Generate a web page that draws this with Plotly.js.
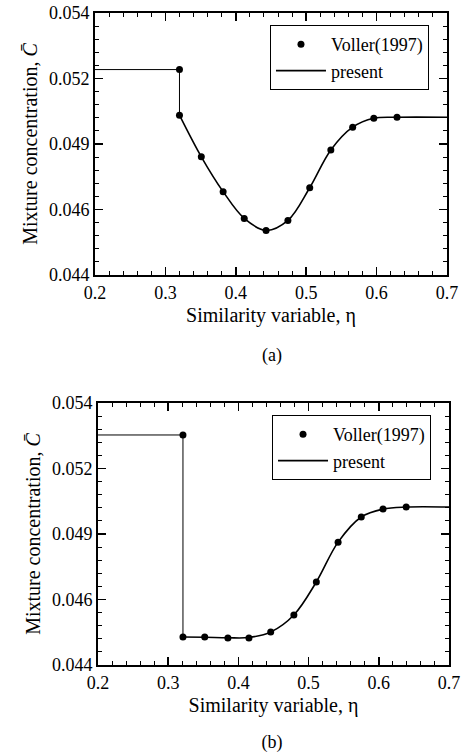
<!DOCTYPE html>
<html>
<head>
<meta charset="utf-8">
<script src="https://cdn.plot.ly/plotly-3.0.1.min.js"></script>
<style>
html,body{margin:0;padding:0;background:#fff;}
#wrap{position:relative;width:465px;height:755px;}
#chart{width:465px;height:755px;}
.cap{position:absolute;width:60px;margin-left:-30px;text-align:center;font-family:'Liberation Serif',serif;font-size:18px;line-height:20px;color:#000;}
</style>
</head>
<body>
<div id="wrap">
<div id="chart"></div>
<div id="capA" class="cap" style="left:272px;top:345px;"></div>
<div id="capB" class="cap" style="left:272px;top:732px;"></div>
</div>
<script>
// ---- Panel (a) data ----
const vollerA_eta = [0.320, 0.320, 0.351, 0.382, 0.412, 0.443, 0.474, 0.505, 0.535, 0.566, 0.596, 0.629];
const vollerA_C   = [0.05184, 0.05010, 0.04851, 0.04718, 0.04616, 0.04570, 0.04608, 0.04733, 0.04877, 0.04964, 0.04998, 0.05002];
const presentA_stepEta = [0.2, 0.320, 0.320];
const presentA_stepC   = [0.05184, 0.05184, 0.05010];
const presentA_eta = [0.320, 0.351, 0.382, 0.412, 0.443, 0.474, 0.505, 0.535, 0.566, 0.596, 0.629, 0.7];
const presentA_C   = [0.05010, 0.04851, 0.04718, 0.04616, 0.04570, 0.04608, 0.04733, 0.04877, 0.04964, 0.04998, 0.05002, 0.05002];

// ---- Panel (b) data ----
const vollerB_eta = [0.321, 0.321, 0.352, 0.385, 0.415, 0.446, 0.479, 0.511, 0.542, 0.575, 0.606, 0.639];
const vollerB_C   = [0.05278, 0.04507, 0.04507, 0.04503, 0.04503, 0.04526, 0.04591, 0.04717, 0.04869, 0.04965, 0.04995, 0.05003];
const presentB_stepEta = [0.2, 0.321, 0.321];
const presentB_stepC   = [0.05278, 0.05278, 0.04507];
const presentB_eta = [0.321, 0.352, 0.385, 0.415, 0.446, 0.479, 0.511, 0.542, 0.575, 0.606, 0.639, 0.7];
const presentB_C   = [0.04507, 0.04506, 0.04504, 0.04505, 0.04526, 0.04591, 0.04717, 0.04869, 0.04965, 0.04995, 0.05003, 0.05003];

// ---- ticks / labels ----
const yTickVals = [0.044, 0.0465, 0.049, 0.0515, 0.054];
const yTickText = ['0.044', '0.046', '0.049', '0.052', '0.054'];
const xTitle = 'Similarity variable, η';
const yTitle = 'Mixture concentration, <i>C̄</i>';
const captions = ['(a)', '(b)'];
const seriesNames = ['Voller(1997)', 'present'];

document.getElementById('capA').textContent = captions[0];
document.getElementById('capB').textContent = captions[1];

const FONT = 'Liberation Serif';

function lineTraces(sx, sy, cx, cy, xa, ya, leg) {
  return [
    {x: sx, y: sy, xaxis: xa, yaxis: ya, mode: 'lines', type: 'scatter',
     line: {color: '#000', width: 1}, showlegend: false, hoverinfo: 'skip', legend: leg},
    {x: cx, y: cy, xaxis: xa, yaxis: ya, mode: 'lines', type: 'scatter', name: seriesNames[1],
     line: {color: '#000', width: 1.6, shape: 'spline', smoothing: 1}, legend: leg, legendrank: 2}
  ];
}
function markerTrace(x, y, xa, ya, leg) {
  return {x: x, y: y, xaxis: xa, yaxis: ya, mode: 'markers', type: 'scatter', name: seriesNames[0],
          marker: {color: '#000', size: 7, symbol: 'circle'}, legend: leg, legendrank: 1};
}

const data = [].concat(
  lineTraces(presentA_stepEta, presentA_stepC, presentA_eta, presentA_C, 'x', 'y', 'legend'),
  lineTraces(presentB_stepEta, presentB_stepC, presentB_eta, presentB_C, 'x2', 'y2', 'legend2'),
  [markerTrace(vollerA_eta, vollerA_C, 'x', 'y', 'legend'),
   markerTrace(vollerB_eta, vollerB_C, 'x2', 'y2', 'legend2')]
);

function xAxis(domain, anchor) {
  return {
    domain: domain, anchor: anchor, range: [0.2, 0.7], tick0: 0.2, dtick: 0.1, tickformat: '.1f',
    ticks: 'inside', ticklen: 8, tickwidth: 1.5, tickcolor: '#000',
    showline: true, linewidth: 2, linecolor: '#000', mirror: 'allticks',
    showgrid: false, zeroline: false,
    tickfont: {family: FONT, size: 18, color: '#000'},
    minor: {dtick: 0.02, ticks: 'inside', ticklen: 4, tickwidth: 1, tickcolor: '#000', showgrid: false},
    title: {text: xTitle, font: {family: FONT, size: 20, color: '#000'}, standoff: 6}
  };
}
function yAxis(domain, anchor) {
  return {
    domain: domain, anchor: anchor, range: [0.044, 0.054],
    tickmode: 'array', tickvals: yTickVals, ticktext: yTickText,
    ticks: 'inside', ticklen: 8, tickwidth: 1.5, tickcolor: '#000',
    showline: true, linewidth: 2, linecolor: '#000', mirror: 'allticks',
    showgrid: false, zeroline: false,
    tickfont: {family: FONT, size: 18, color: '#000'},
    minor: {dtick: 0.0005, ticks: 'inside', ticklen: 4, tickwidth: 1, tickcolor: '#000', showgrid: false},
    title: {text: yTitle, font: {family: FONT, size: 20, color: '#000'}, standoff: 6}
  };
}
function legendCfg(x, y) {
  return {x: x, y: y, xanchor: 'left', yanchor: 'top', xref: 'paper', yref: 'paper',
          bgcolor: '#fff', bordercolor: '#000', borderwidth: 1,
          font: {family: FONT, size: 18, color: '#000'}, itemwidth: 50, tracegroupgap: 0};
}

const layout = {
  width: 465, height: 755,
  margin: {l: 0, r: 0, t: 0, b: 0},
  font: {family: FONT, color: '#000', size: 18},
  xaxis: xAxis([0.2043, 0.9613], 'y'),
  yaxis: yAxis([0.6358, 0.9828], 'x'),
  xaxis2: xAxis([0.2108, 0.9656], 'y2'),
  yaxis2: yAxis([0.1192, 0.4662], 'x2'),
  legend: legendCfg(0.5806, 0.9669),
  legend2: legendCfg(0.585, 0.4503),
  showlegend: true
};

// Bring Plotly's own tick marks and axis lines to the top layer so nothing hides them.
function raiseAxisMarks(gd) {
  const svgs = gd.querySelectorAll('svg.main-svg');
  if (!svgs.length) return;
  const top = svgs[svgs.length - 1];
  const NS = 'http://www.w3.org/2000/svg';
  const g = document.createElementNS(NS, 'g');
  g.setAttribute('class', 'axis-marks-top');
  top.appendChild(g);
  const sel = 'path.xtick, path.ytick, path.x2tick, path.y2tick, path.xlines-above, path.ylines-above';
  gd.querySelectorAll(sel).forEach(function(p) {
    let m = null;
    try { m = p.getCTM(); } catch (e) { m = null; }
    if (!m) {
      m = top.createSVGMatrix();
      let e = p;
      while (e && e.tagName && e.tagName.toLowerCase() !== 'svg') {
        if (e.transform && e.transform.baseVal && e.transform.baseVal.numberOfItems) {
          const t = e.transform.baseVal.consolidate();
          if (t) m = t.matrix.multiply(m);
        }
        e = e.parentNode;
      }
    }
    const c = p.cloneNode(true);
    c.setAttribute('transform', 'matrix(' + [m.a, m.b, m.c, m.d, m.e, m.f].join(',') + ')');
    c.style.visibility = 'visible';
    c.style.opacity = '1';
    c.style.display = 'inline';
    c.style.fill = 'none';
    if (!c.style.stroke) c.style.stroke = '#000';
    g.appendChild(c);
  });
}

Plotly.newPlot('chart', data, layout, {displayModeBar: false, staticPlot: true}).then(raiseAxisMarks);
</script>
</body>
</html>
